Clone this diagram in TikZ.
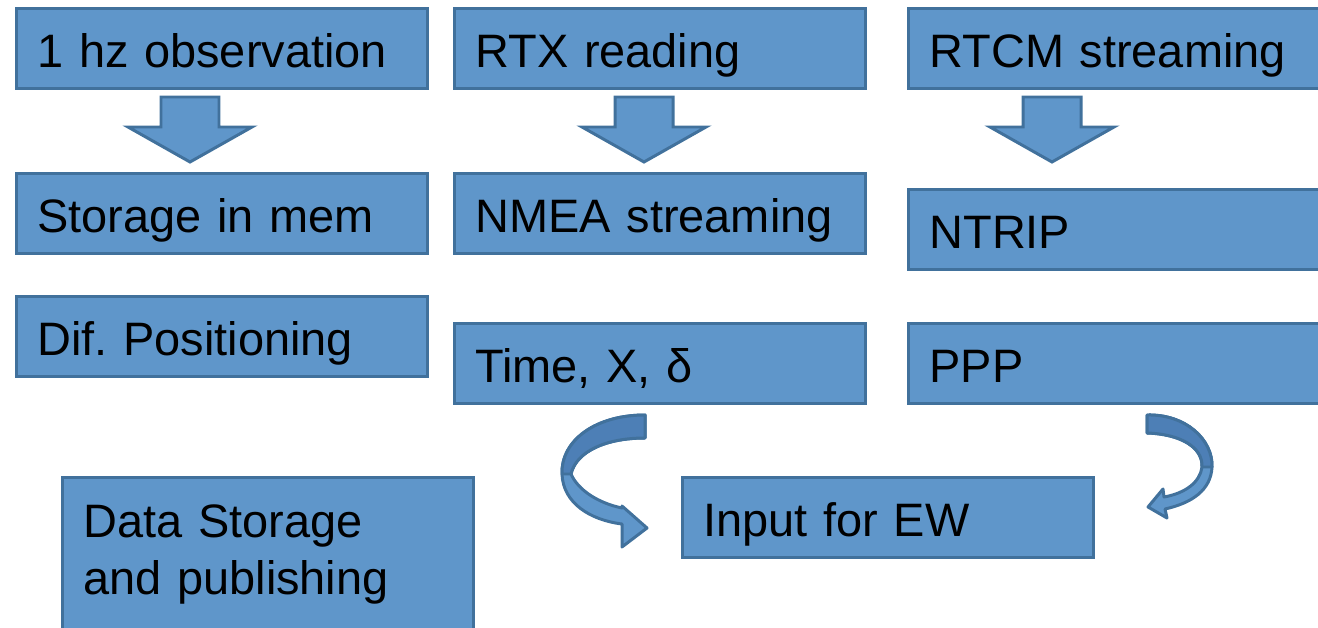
\documentclass[tikz,border=0pt]{standalone}
\usepackage{fontspec}
\setmainfont{Liberation Sans}
\frenchspacing
\definecolor{boxfill}{HTML}{5F96CA}
\definecolor{boxline}{HTML}{41719C}
\definecolor{bandfill}{HTML}{4D7FB6}
\tikzset{
  boxbase/.style={shape=rectangle, draw=boxline, fill=boxfill, line width=1.7pt,
    anchor=north west, minimum width=8.22cm, minimum height=1.6cm,
    inner xsep=0.42cm, text width=7.38cm, align=left,
    font=\fontsize{26.7}{33}\selectfont},
  box/.style={boxbase, text height=23pt, text depth=1.4pt},
  blockarrow/.style={draw=boxline, fill=boxfill, line width=1.7pt},
  bendarrow/.style={draw=boxline, fill=boxfill, line width=1.7pt, line join=round}
}
\begin{document}
\begin{tikzpicture}[x=0.02cm,y=-0.02cm]
    \useasboundingbox (0,0) rectangle (1318,628);
    \clip (0,0) rectangle (1318,628);

    \node[box] (obs) at (15,7) {1 hz observation};
    \node[box] (rtx) at (453,7) {RTX reading};
    \node[box] (rtcm) at (907,7) {RTCM streaming};
    \node[box] (store) at (15,172) {Storage in mem};
    \node[box] (nmea) at (453,172) {NMEA streaming};
    \node[box] (ntrip) at (907,188) {NTRIP};
    \node[box] (difpos) at (15,295) {Dif. Positioning};
    \node[box] (timex) at (453,322) {Time, X, δ};
    \node[box] (ppp) at (907,322) {PPP};
    \node[box] (input) at (681,476) {Input for EW};
    \node[boxbase, minimum height=3.08cm] (data) at (61,476) {Data Storage\\and publishing};

    % block arrows
    \foreach \ax in {190,644,1052}
        \draw[blockarrow, shift={(\ax,97)}] (-29,0) -- (29,0) -- (29,30) -- (62,30)
            -- (0,65) -- (-62,30) -- (-29,30) -- cycle;

    % curved arrows
    \draw[bendarrow] (645,415) .. controls (596,415) and (561,440) .. (562,474)
        .. controls (563,503) and (590,520) .. (622,524) -- (622,547) -- (647,528)
        -- (622,506) -- (622,508) .. controls (598,503) and (578,490) .. (571,474)
        .. controls (576,452) and (605,438) .. (645,438) -- cycle;
    \draw[bendarrow, fill=bandfill] (645,415) .. controls (596,415) and (561,440) .. (562,474)
        -- (571,474) .. controls (576,452) and (605,438) .. (645,438) -- cycle;

    \draw[bendarrow] (1147,415) .. controls (1186,414) and (1213,440) .. (1212,467)
        .. controls (1211,490) and (1192,503) .. (1165,509) -- (1167,518) -- (1148,507)
        -- (1163,489) -- (1164,497) .. controls (1186,493) and (1200,482) .. (1202,467)
        .. controls (1203,447) and (1180,434) .. (1147,433) -- cycle;
    \draw[bendarrow, fill=bandfill] (1147,415) .. controls (1186,414) and (1213,440) .. (1212,467)
        -- (1202,467) .. controls (1203,447) and (1180,434) .. (1147,433) -- cycle;

\end{tikzpicture}
\end{document}
